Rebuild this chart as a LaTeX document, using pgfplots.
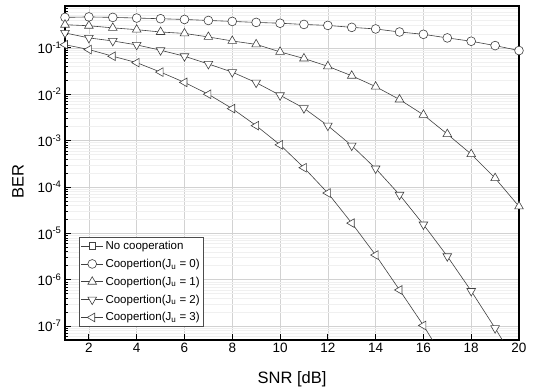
\documentclass[border=0pt]{standalone}
\usepackage{fontspec}
\setmainfont{Liberation Sans}
\usepackage{pgfplots}
\pgfplotsset{compat=1.18}
\usetikzlibrary{plotmarks}
\begin{document}
\begin{tikzpicture}
\begin{semilogyaxis}[
  scale only axis,
  width=454pt, height=334pt,
  xmin=1, xmax=20, ymin=5e-8, ymax=0.8,
  xtick={2,4,...,20},
  xtick pos=bottom, ytick pos=left,
  tick align=inside,
  major tick length=6pt, minor tick length=3pt,
  tick style={black, line width=0.9pt},
  minor tick style={black, line width=0.6pt},
  axis line style={black, line width=1.3pt},
  grid=both,
  major grid style={gray!35, line width=0.6pt},
  minor grid style={gray!12, line width=0.5pt},
  xminorgrids=false,
  log number format basis/.code 2 args={#1\textsuperscript{\pgfmathprintnumber{#2}}},
  /pgf/number format/assume math mode=true,
  tick label style={font=\fontsize{13.5}{15}\selectfont},
  xlabel={SNR [dB]}, ylabel={BER},
  label style={font=\fontsize{16.5}{18}\selectfont},
  xlabel style={yshift=-12pt},
  ylabel style={yshift=7pt, xshift=-9pt},
  every axis plot/.append style={black!75, line width=0.6pt},
  legend style={at={(0.03,0.04)}, anchor=south west, draw=black!70, line width=0.6pt,
    font=\fontsize{11.5}{13.5}\selectfont, row sep=4pt, inner sep=2pt, fill=white},
  legend cell align=left,
  legend image code/.code={\draw[mark repeat=2, mark phase=2, sharp plot] plot coordinates {(0pt,0pt)(11pt,0pt)(22pt,0pt)};},
]
\addlegendimage{black!75, line width=0.6pt, mark=square*, mark size=3.4pt, mark options={fill=white}}
\addlegendentry{No cooperation}
\addplot[mark=*, mark size=4.4pt, mark options={fill=white}] coordinates {
(1,0.454)(2,0.465)(3,0.454)(4,0.44)(5,0.425)(6,0.41)(7,0.39)(8,0.372)(9,0.354)(10,0.34)
(11,0.32)(12,0.305)(13,0.277)(14,0.256)(15,0.22)(16,0.196)(17,0.164)(18,0.139)(19,0.112)(20,0.0875)};
\addlegendentry{Coopertion(J\textsubscript{u} = 0)}
\addplot[mark=triangle*, mark size=5pt, mark options={fill=white}] coordinates {
(1,0.316)(2,0.30)(3,0.27)(4,0.247)(5,0.22)(6,0.205)(7,0.172)(8,0.141)(9,0.119)(10,0.082)
(11,0.059)(12,0.040)(13,0.025)(14,0.0146)(15,0.0077)(16,0.0036)(17,0.00138)(18,5.1e-4)(19,1.55e-4)(20,3.8e-5)};
\addlegendentry{Coopertion(J\textsubscript{u} = 1)}
\addplot[mark=triangle*, mark size=5pt, mark options={fill=white, rotate=180}] coordinates {
(1,0.21)(2,0.164)(3,0.141)(4,0.116)(5,0.089)(6,0.066)(7,0.045)(8,0.030)(9,0.0178)(10,0.0095)
(11,0.005)(12,0.0021)(13,7.8e-4)(14,2.5e-4)(15,6.8e-5)(16,1.55e-5)(17,3.2e-6)(18,5.7e-7)(19,9e-8)(20,1.3e-8)};
\addlegendentry{Coopertion(J\textsubscript{u} = 2)}
\addplot[mark=triangle*, mark size=5pt, mark options={fill=white, rotate=90}] coordinates {
(1,0.117)(2,0.092)(3,0.066)(4,0.048)(5,0.030)(6,0.018)(7,0.010)(8,0.0049)(9,0.0021)(10,8.1e-4)
(11,2.6e-4)(12,7.4e-5)(13,1.66e-5)(14,3.4e-6)(15,6e-7)(16,1.03e-7)(17,1.5e-8)};
\addlegendentry{Coopertion(J\textsubscript{u} = 3)}
\end{semilogyaxis}
\pgfresetboundingbox
\useasboundingbox ([xshift=-65pt,yshift=-50pt]current axis.south west) rectangle ([xshift=17pt,yshift=6pt]current axis.north east);
\end{tikzpicture}
\end{document}
